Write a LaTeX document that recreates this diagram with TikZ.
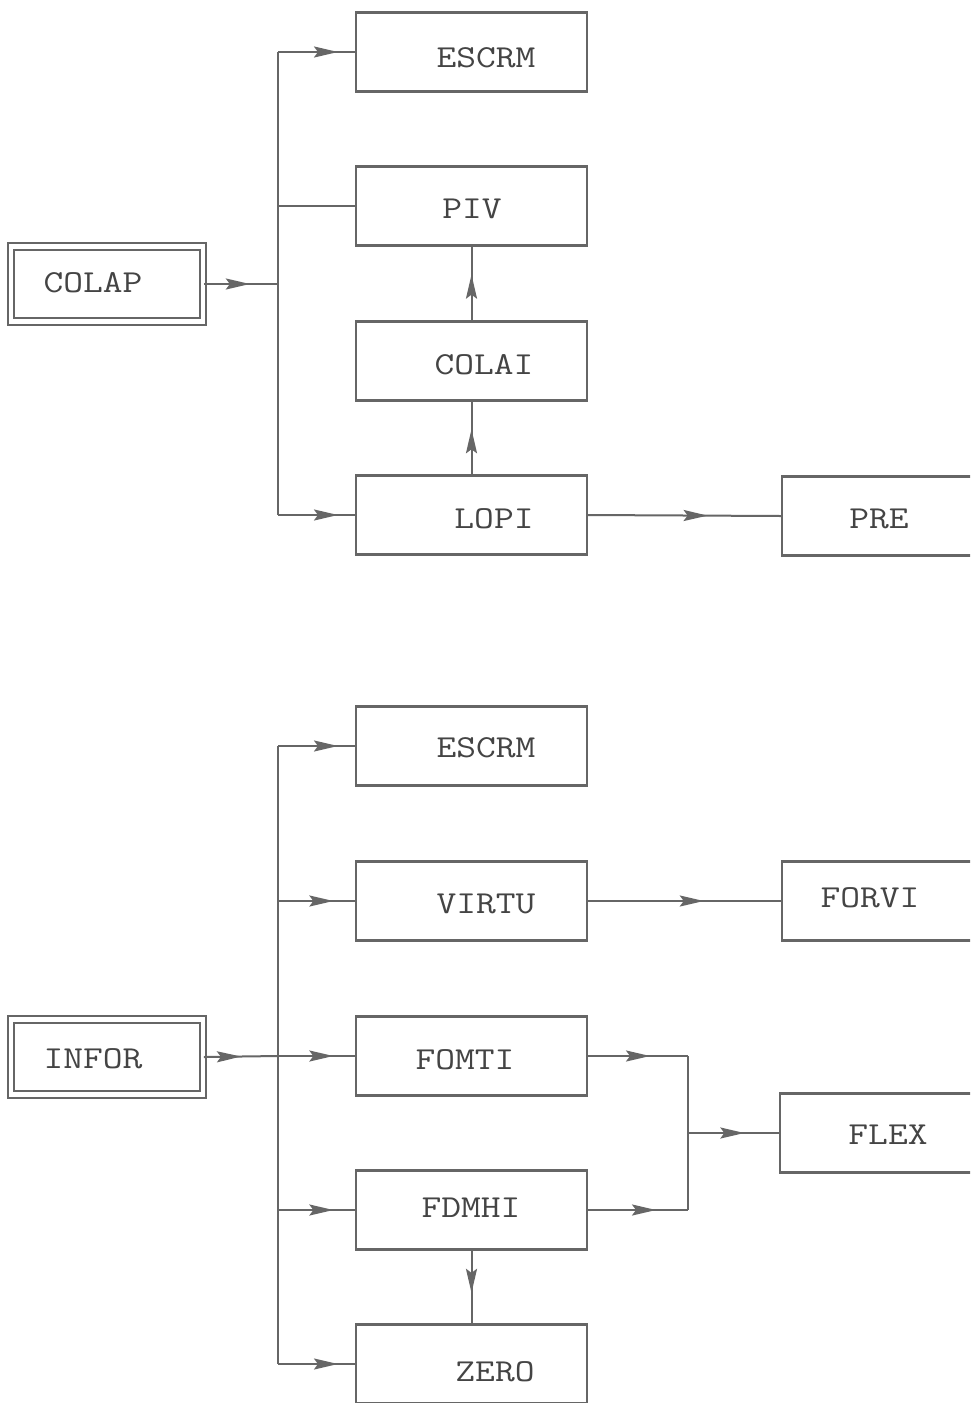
\documentclass[tikz,border=0pt]{standalone}
\usepackage{fontspec}
\usepackage{graphicx}
\usetikzlibrary{arrows.meta,decorations.markings}
\definecolor{ink}{HTML}{666666}
\definecolor{txt}{HTML}{444444}
\newcommand{\wtxt}[1]{\scalebox{1.2}[1]{#1}}
\tikzset{
  box/.style={draw=ink,line width=2.2pt,minimum width=231pt,minimum height=79pt,inner sep=0pt},
  rbox/.style={draw=ink,line width=2.2pt,minimum width=240pt,minimum height=79pt,inner sep=0pt},
  dbox/.style={draw=ink,line width=1.8pt,double=white,double distance=4.5pt,minimum width=192pt,minimum height=75pt,inner sep=0pt},
  lbl/.style={text=txt,font=\ttfamily\fontsize{32}{32}\selectfont,inner sep=0pt},
  conn/.style={draw=ink,line width=2pt},
  arr/.style={conn,postaction={decorate,decoration={markings,mark=at position #1 with {\arrow[ink]{Stealth[length=24pt,width=11pt,inset=4pt]}}}}}
}
\begin{document}
\begin{tikzpicture}[x=1pt,y=-1pt]
\clip (0,0) rectangle (970,1403);
\fill[white] (0,0) rectangle (970,1403);
% ---------- top group ----------
\node[dbox] (colap) at (107,284) {};
\node[lbl] (colapt) at (93,283) {\wtxt{COLAP}};
\node[box] (escrmA) at (471.5,52) {};
\node[lbl] (escrmAt) at (486,58) {\wtxt{ESCRM}};
\node[box] (piv) at (471.5,206) {};
\node[lbl] (pivt) at (472,209) {\wtxt{PIV}};
\node[box] (colai) at (471.5,361) {};
\node[lbl] (colait) at (484,365) {\wtxt{COLAI}};
\node[box] (lopi) at (471.5,515) {};
\node[lbl] (lopit) at (494,519) {\wtxt{LOPI}};
\node[rbox] (pre) at (902,516) {};
\node[lbl] (pret) at (879,519) {\wtxt{PRE}};
\coordinate (tA) at (278,284);
\coordinate (tAtop) at (278,52);
\coordinate (tAbot) at (278,515);
\draw[conn] (tAtop) -- (tAbot);
\draw[arr=0.62] (colap.east) -- (tA);
\draw[arr=0.78] (tAtop) -- (escrmA.west);
\draw[conn] (tA |- piv.west) -- (piv.west);
\draw[arr=0.78] (tAbot) -- (lopi.west);
\draw[arr=0.62] (colai.north) -- (piv.south);
\draw[arr=0.62] (lopi.north) -- (colai.south);
\draw[arr=0.62] (lopi.east) -- (pre.west);
% ---------- bottom group ----------
\node[dbox] (infor) at (107,1057) {};
\node[lbl] (infort) at (93,1059) {\wtxt{INFOR}};
\node[box] (escrmB) at (471.5,746) {};
\node[lbl] (escrmBt) at (486,748) {\wtxt{ESCRM}};
\node[box] (virtu) at (471.5,901) {};
\node[lbl] (virtut) at (486,904) {\wtxt{VIRTU}};
\node[rbox] (forvi) at (902,901) {};
\node[lbl] (forvit) at (870,898) {\wtxt{FORVI}};
\node[box] (fomti) at (471.5,1056) {};
\node[lbl] (fomtit) at (465,1060) {\wtxt{FOMTI}};
\node[box] (fdmhi) at (471.5,1210) {};
\node[lbl] (fdmhit) at (471,1208) {\wtxt{FDMHI}};
\node[box] (zero) at (471.5,1364) {};
\node[lbl] (zerot) at (495,1372) {\wtxt{ZERO}};
\node[rbox] (flex) at (900,1133) {};
\node[lbl] (flext) at (888,1135) {\wtxt{FLEX}};
\coordinate (tB) at (278,1056);
\coordinate (tBtop) at (278,746);
\coordinate (tBbot) at (278,1364);
\draw[conn] (tBtop) -- (tBbot);
\draw[arr=0.5] (infor.east) -- (tB);
\draw[arr=0.72] (tB) -- (fomti.west);
\draw[arr=0.78] (tBtop) -- (escrmB.west);
\draw[arr=0.72] (tB |- virtu.west) -- (virtu.west);
\draw[arr=0.72] (tB |- fdmhi.west) -- (fdmhi.west);
\draw[arr=0.78] (tBbot) -- (zero.west);
\draw[arr=0.6] (virtu.east) -- (forvi.west);
\draw[arr=0.58] (fdmhi.south) -- (zero.north);
\coordinate (j) at (688,1133);
\draw[arr=0.62] (fomti.east) -- (fomti.east -| j);
\draw[arr=0.68] (fdmhi.east) -- (fdmhi.east -| j);
\draw[conn] (fomti.east -| j) -- (fdmhi.east -| j);
\draw[arr=0.62] (j) -- (flex.west);
\end{tikzpicture}
\end{document}
